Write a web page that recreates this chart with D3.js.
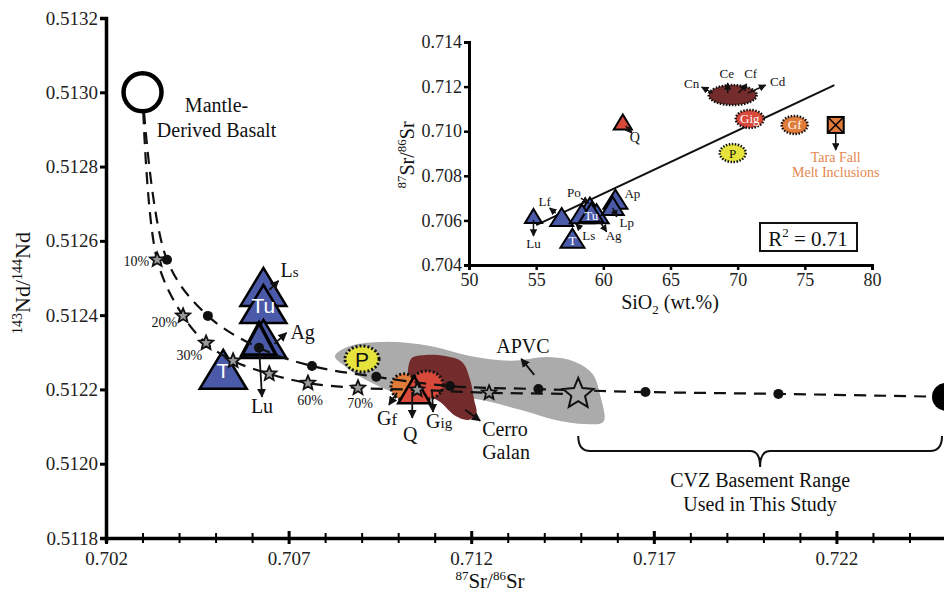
<!DOCTYPE html>
<html>
<head>
<meta charset="utf-8">
<script src="https://cdn.jsdelivr.net/npm/d3@7"></script>
<style>
  body { margin: 0; background: #fff; }
  svg text { font-family: "Liberation Serif", "Times New Roman", "DejaVu Serif", serif; fill: #111; }
</style>
</head>
<body>
<div id="chart"></div>
<script>
// ---- main diagram data (87Sr/86Sr vs 143Nd/144Nd) ----
var mantle = [0.7030, 0.51300];
var basement = [0.7250, 0.51218];
var bigStar = [0.71493, 0.512188];

// mixing curve with dots
var dotSr = [0.70367, 0.70479, 0.70619, 0.70764, 0.70940, 0.71142, 0.71384, 0.71677, 0.72041];
var dotNd = [0.512549, 0.512398, 0.512312, 0.512263, 0.512234, 0.512209, 0.512201, 0.512193, 0.512188];
// AFC-like curve with stars
var starSr = [0.70340, 0.70411, 0.70474, 0.70548, 0.70647, 0.70753, 0.70890, 0.71052, 0.71249];
var starNd = [0.512549, 0.512398, 0.512325, 0.512277, 0.512242, 0.512217, 0.512204, 0.512199, 0.512191];
var starPct = ["10%", "20%", "30%", "", "", "60%", "70%", "", ""];

var triNames = ["Ls", "Tu", "Ag", "Lu", "T"];
var triSr = [0.70631, 0.70631, 0.70631, 0.70619, 0.70521];
var triNd = [0.512476, 0.512430, 0.512336, 0.512336, 0.512254];

var ellNames = ["P", "Gf", "Gig"];
var ellSr = [0.70901, 0.71016, 0.71079];
var ellNd = [0.512282, 0.512207, 0.512212];
var qSr = 0.71044, qNd = 0.512199;

var apvcSr = [0.70827, 0.70868, 0.70964, 0.71088, 0.71197, 0.71307, 0.71411, 0.71485, 0.71532, 0.71553, 0.71562,
              0.71512, 0.71430, 0.71334, 0.71225, 0.71115, 0.71005, 0.70923, 0.70855];
var apvcNd = [0.512290, 0.512317, 0.512328, 0.512317, 0.512290, 0.512277, 0.512287, 0.512274, 0.512242, 0.512185, 0.512113,
              0.512107, 0.512118, 0.512145, 0.512172, 0.512183, 0.512188, 0.512220, 0.512262];
var galanSr = [0.71027, 0.71038, 0.71074, 0.71129, 0.71175, 0.71197, 0.71208, 0.71214, 0.71192, 0.71156, 0.71115, 0.71074, 0.71033];
var galanNd = [0.512252, 0.512285, 0.512293, 0.512290, 0.512274, 0.512226, 0.512172, 0.512134, 0.512118, 0.512129, 0.512166, 0.512188, 0.512212];

var xMajor = [0.702, 0.707, 0.712, 0.717, 0.722];
var yTicks = [0.5118, 0.5120, 0.5122, 0.5124, 0.5126, 0.5128, 0.5130, 0.5132];

// ---- inset data (SiO2 vs 87Sr/86Sr) ----
var inTriNames = ["Lu", "Lf", "Ls", "Po", "Ag", "Tu", "T", "Lp", "Ap"];
var inTriSi = [54.8, 56.9, 58.4, 59.0, 59.5, 59.1, 57.7, 60.7, 60.9];
var inTriSr = [0.70620, 0.70615, 0.70630, 0.70660, 0.70630, 0.70635, 0.70520, 0.70665, 0.70695];
var inEllNames = ["Cerro", "Gig", "Gf", "P"];
var inEllSi = [69.63, 70.9, 74.24, 69.63];
var inEllSr = [0.71162, 0.71055, 0.71028, 0.70902];
var inQSi = 61.45, inQSr = 0.71041;
var taraSi = 77.3, taraSr = 0.71028;
var fitSi = [55.0, 77.2];
var fitSr = [0.70579, 0.71207];
var inXTicks = [50, 55, 60, 65, 70, 75, 80];
var inYTicks = [0.704, 0.706, 0.708, 0.710, 0.712, 0.714];

var BLUE = "#4a5aa8", RED = "#d9493b", ORANGE = "#e07b3a", YELLOW = "#e6e43c",
    BROWN = "#742b2b", GRAY = "#ababab", TARA = "#e4874f";

function triPath(w, h) {
    return "M0," + (-h / 2) + "L" + (w / 2) + "," + (h / 2) + "L" + (-w / 2) + "," + (h / 2) + "Z";
}
function starPath(R) {
    var p = [];
    for (var i = 0; i < 10; i++) {
        var a = -Math.PI / 2 + i * Math.PI / 5, rr = i % 2 ? R * 0.45 : R;
        p.push([(rr * Math.cos(a)).toFixed(2), (rr * Math.sin(a)).toFixed(2)]);
    }
    return "M" + p.join("L") + "Z";
}

var svg = d3.select("#chart").append("svg").attr("width", 944).attr("height", 594)
    .attr("font-family", "'Liberation Serif', 'Times New Roman', serif");

svg.append("defs").append("marker")
    .attr("id", "ah").attr("viewBox", "0 0 10 10").attr("refX", 9).attr("refY", 5)
    .attr("markerWidth", 5).attr("markerHeight", 5).attr("orient", "auto")
    .append("path").attr("d", "M0,0L10,5L0,10z").attr("fill", "#111");

function arrow(g, x1, y1, x2, y2, sw) {
    g.append("line").attr("x1", x1).attr("y1", y1).attr("x2", x2).attr("y2", y2)
        .attr("stroke", "#111").attr("stroke-width", sw || 1.8).attr("marker-end", "url(#ah)");
}
function label(g, tx, ty, parts, size, anchor, fill) {
    var t = g.append("text").attr("x", tx).attr("y", ty).attr("font-size", size)
        .attr("text-anchor", anchor || "middle");
    if (fill) t.style("fill", fill);
    parts.forEach(function (p) {
        var s = t.append("tspan").text(p[0]);
        if (p[1]) s.attr("font-size", p[1]);
        if (p[2]) s.attr("dy", p[2]);
    });
    return t;
}

// ---- main scales & axes ----
var x = d3.scaleLinear().domain([0.702, 0.725]).range([106, 946]);
var y = d3.scaleLinear().domain([0.5118, 0.5132]).range([538, 18]);

var xTicksAll = d3.range(0, 23).map(function (i) { return +(0.702 + i * 0.001).toFixed(3); });
var gx = svg.append("g").attr("transform", "translate(0,538)")
    .call(d3.axisBottom(x).tickValues(xTicksAll).tickSizeOuter(0).tickSize(5).tickPadding(9)
        .tickFormat(function (d) { return xMajor.indexOf(d) >= 0 ? d3.format(".3f")(d) : ""; }));
gx.attr("font-family", null).attr("font-size", null);
gx.select(".domain").attr("stroke-width", 3.5).attr("stroke", "#000");
gx.selectAll(".tick line").attr("y1", -5).attr("y2", 5).attr("stroke-width", 2);
gx.selectAll(".tick line").filter(function (d) { return xMajor.indexOf(d) >= 0; }).attr("y1", -7).attr("y2", 6).attr("stroke-width", 3);
gx.selectAll(".tick text").attr("font-size", 19).style("fill", "#222");

var gy = svg.append("g").attr("transform", "translate(106,0)")
    .call(d3.axisLeft(y).tickValues(yTicks).tickSizeOuter(0).tickSize(6).tickPadding(2).tickFormat(d3.format(".4f")));
gy.attr("font-family", null).attr("font-size", null);
gy.select(".domain").attr("stroke-width", 3.5).attr("stroke", "#000");
gy.selectAll(".tick line").attr("stroke-width", 3);
gy.selectAll(".tick text").attr("font-size", 19).style("fill", "#222");

// axis titles
label(svg, 490, 588, [["87", 13, -8], ["Sr/", 21, 8], ["86", 13, -8], ["Sr", 21, 8]], 21);
label(svg.append("g").attr("transform", "translate(30,283) rotate(-90)"), 0, 0,
    [["143", 14, -8], ["Nd/", 22, 8], ["144", 14, -8], ["Nd", 22, 8]], 22);

// ---- regions ----
var plot = svg.append("g");
plot.append("path")
    .datum(d3.zip(apvcSr, apvcNd))
    .attr("d", d3.line().x(function (d) { return x(d[0]); }).y(function (d) { return y(d[1]); }).curve(d3.curveCatmullRomClosed))
    .attr("fill", GRAY);
plot.append("path")
    .datum(d3.zip(galanSr, galanNd))
    .attr("d", d3.line().x(function (d) { return x(d[0]); }).y(function (d) { return y(d[1]); }).curve(d3.curveCatmullRomClosed))
    .attr("fill", BROWN);

// blue triangles
var triW = [46, 46, 46, 34, 47], triH = [38, 38, 38, 32, 39], triSW = [2.5, 2.5, 2.5, 3.5, 2.5];
triNames.forEach(function (n, i) {
    var g = plot.append("g").attr("transform", "translate(" + x(triSr[i]) + "," + y(triNd[i]) + ")");
    g.append("path").attr("d", triPath(triW[i], triH[i])).attr("fill", BLUE)
        .attr("stroke", "#000").attr("stroke-width", triSW[i]).attr("stroke-linejoin", "miter");
    if (n === "Tu" || n === "T") {
        g.append("text").attr("y", 9).attr("text-anchor", "middle").attr("font-size", 21)
            .style("font-family", "'Liberation Sans', Arial, sans-serif").style("fill", "#fff").text(n);
    }
});

// ellipses
var ellRx = [17, 13, 16], ellRy = [13, 13, 14], ellFill = [YELLOW, ORANGE, RED];
ellNames.forEach(function (n, i) {
    plot.append("ellipse").attr("cx", x(ellSr[i])).attr("cy", y(ellNd[i]))
        .attr("rx", ellRx[i]).attr("ry", ellRy[i]).attr("fill", ellFill[i])
        .attr("stroke", "#111").attr("stroke-width", 3).attr("stroke-dasharray", "2,2");
});
plot.append("text").attr("x", x(ellSr[0])).attr("y", y(ellNd[0]) + 8).attr("text-anchor", "middle")
    .attr("font-size", 21).style("font-family", "'Liberation Sans', Arial, sans-serif").text("P");
plot.append("path").attr("transform", "translate(" + x(qSr) + "," + y(qNd) + ")")
    .attr("d", triPath(32, 27)).attr("fill", RED).attr("stroke", "#000").attr("stroke-width", 2.5);

// ---- mixing curves ----
var curveLine = d3.line().x(function (d) { return x(d[0]); }).y(function (d) { return y(d[1]); })
    .curve(d3.curveCatmullRom.alpha(0.5));
var dotPts = [mantle].concat(d3.zip(dotSr, dotNd)).concat([basement]);
var starPts = [mantle].concat(d3.zip(starSr, starNd)).concat([bigStar]);
[dotPts, starPts].forEach(function (pts) {
    plot.append("path").datum(pts).attr("d", curveLine).attr("fill", "none")
        .attr("stroke", "#111").attr("stroke-width", 2.2).attr("stroke-dasharray", "12,8");
});
plot.selectAll(".mixdot").data(d3.zip(dotSr, dotNd)).enter().append("circle")
    .attr("cx", function (d) { return x(d[0]); }).attr("cy", function (d) { return y(d[1]); })
    .attr("r", 5).attr("fill", "#111");
plot.selectAll(".mixstar").data(d3.zip(starSr, starNd)).enter().append("path")
    .attr("transform", function (d) { return "translate(" + x(d[0]) + "," + y(d[1]) + ")"; })
    .attr("d", starPath(7.5)).attr("fill", "#9a9a9a").attr("stroke", "#111").attr("stroke-width", 1.8);
plot.append("path").attr("transform", "translate(" + x(bigStar[0]) + "," + y(bigStar[1]) + ")")
    .attr("d", starPath(16)).attr("fill", "#a8a8a8").attr("stroke", "#111").attr("stroke-width", 2);
plot.append("circle").attr("cx", x(basement[0])).attr("cy", y(basement[1])).attr("r", 14).attr("fill", "#000");
plot.append("circle").attr("cx", x(mantle[0])).attr("cy", y(mantle[1])).attr("r", 19)
    .attr("fill", "#fff").attr("stroke", "#000").attr("stroke-width", 4.5);

// percent labels
var pctOff = [[-8, 6], [-6, 11], [-4, 17], [0, 0], [0, 0], [2, 22], [2, 20]];
starPct.forEach(function (p, i) {
    if (!p) return;
    plot.append("text").attr("x", x(starSr[i]) + pctOff[i][0]).attr("y", y(starNd[i]) + pctOff[i][1])
        .attr("font-size", 14).attr("text-anchor", i < 3 ? "end" : "middle").text(p);
});

// ---- annotations ----
var ann = svg.append("g");
label(ann, x(mantle[0]) + 74, y(mantle[1]) + 20, [["Mantle-"]], 20);
label(ann, x(mantle[0]) + 74, y(mantle[1]) + 45, [["Derived Basalt"]], 20);

var lsX = x(triSr[0]), lsY = y(triNd[0]);
arrow(ann, lsX + 6, lsY + 3, lsX + 15, lsY - 6);
label(ann, lsX + 17, lsY - 10, [["L", 20], ["s", 15]], 20, "start");
var agX = x(triSr[2]), agY = y(triNd[2]);
arrow(ann, agX + 11, agY + 5, agX + 23, agY - 6);
label(ann, agX + 27, agY + 0, [["Ag"]], 20, "start");
var luX = x(triSr[3]), luY = y(triNd[3]);
arrow(ann, luX, luY + 8, luX + 3, luY + 58);
label(ann, luX + 3, luY + 74, [["Lu"]], 20);

var gfX = x(ellSr[1]), gfY = y(ellNd[1]);
arrow(ann, gfX - 7, gfY + 6, gfX - 15, gfY + 18);
label(ann, gfX - 17, gfY + 38, [["G", 20], ["f", 17]], 20);
var qX = x(qSr), qY = y(qNd);
arrow(ann, qX - 2, qY + 2, qX - 2, qY + 28);
label(ann, qX - 4, qY + 51, [["Q"]], 20);
var giX = x(ellSr[2]), giY = y(ellNd[2]);
arrow(ann, giX + 5, giY + 6, giX + 6, giY + 27);
label(ann, giX - 1, giY + 43, [["G", 20], ["ig", 15]], 20, "start");

var cgX = x(galanSr[6]), cgY = y(galanNd[6]);
arrow(ann, cgX - 9, cgY + 10, cgX + 6, cgY + 21);
label(ann, cgX + 8, cgY + 36, [["Cerro"]], 20, "start");
label(ann, cgX + 8, cgY + 59, [["Galan"]], 20, "start");

var bsX = x(bigStar[0]), bsY = y(bigStar[1]);
arrow(ann, bsX - 44, bsY - 19, bsX - 57, bsY - 35);
label(ann, bsX - 82, bsY - 41, [["APVC"]], 20, "start");

// brace for basement range
var bl = bsX, br = Math.min(x(basement[0]), 942), bm = (bl + br) / 2, by0 = 436, by1 = 451;
ann.append("path")
    .attr("d", "M" + bl + "," + by0 + "Q" + bl + "," + by1 + " " + (bl + 12) + "," + by1 +
        "L" + (bm - 10) + "," + by1 + "Q" + bm + "," + by1 + " " + bm + "," + (by1 + 16) +
        "Q" + bm + "," + by1 + " " + (bm + 10) + "," + by1 + "L" + (br - 12) + "," + by1 +
        "Q" + br + "," + by1 + " " + br + "," + by0)
    .attr("fill", "none").attr("stroke", "#111").attr("stroke-width", 2);
label(ann, bm, 487, [["CVZ Basement Range"]], 20);
label(ann, bm, 511, [["Used in This Study"]], 20);

// ---- inset ----
var ix = d3.scaleLinear().domain([50, 80]).range([469, 872]);
var iy = d3.scaleLinear().domain([0.704, 0.714]).range([265, 42]);
var inset = svg.append("g");

var igx = inset.append("g").attr("transform", "translate(0,265)")
    .call(d3.axisBottom(ix).tickValues(inXTicks).tickSizeOuter(0).tickSize(5).tickPadding(3));
igx.attr("font-family", null).attr("font-size", null);
igx.select(".domain").attr("stroke-width", 3).attr("stroke", "#000");
igx.selectAll(".tick line").attr("stroke-width", 2.5);
igx.selectAll(".tick text").attr("font-size", 18).style("fill", "#222");

var igy = inset.append("g").attr("transform", "translate(469,0)")
    .call(d3.axisLeft(iy).tickValues(inYTicks).tickSizeOuter(0).tickSize(5).tickPadding(2).tickFormat(d3.format(".3f")));
igy.attr("font-family", null).attr("font-size", null);
igy.select(".domain").attr("stroke-width", 3).attr("stroke", "#000");
igy.selectAll(".tick line").attr("stroke-width", 2.5);
igy.selectAll(".tick text").attr("font-size", 18).style("fill", "#222");

label(inset, 670, 309, [["SiO", 20], ["2", 13, 5], [" (wt.%)", 20, -5]], 20);
label(inset.append("g").attr("transform", "translate(414,155) rotate(-90)"), 0, 0,
    [["87", 13, -8], ["Sr/", 20, 8], ["86", 13, -8], ["Sr", 20, 8]], 20);

// regression line
inset.append("line").attr("x1", ix(fitSi[0])).attr("y1", iy(fitSr[0])).attr("x2", ix(fitSi[1])).attr("y2", iy(fitSr[1]))
    .attr("stroke", "#111").attr("stroke-width", 2);

// inset triangles
var inTriW = [17, 23, 24, 24, 24, 24, 24, 22, 24], inTriH = [14, 18, 19, 19, 19, 19, 19, 18, 19];
var inOrder = [0, 1, 3, 4, 2, 5, 6, 8, 7];
inOrder.forEach(function (i) {
    var g = inset.append("g").attr("transform", "translate(" + ix(inTriSi[i]) + "," + iy(inTriSr[i]) + ")");
    g.append("path").attr("d", triPath(inTriW[i], inTriH[i])).attr("fill", BLUE)
        .attr("stroke", "#000").attr("stroke-width", 2);
    if (inTriNames[i] === "Tu" || inTriNames[i] === "T") {
        g.append("text").attr("y", 7).attr("text-anchor", "middle").attr("font-size", 13)
            .style("fill", "#fff").text(inTriNames[i]);
    }
});
// inset ellipses
var inRx = [24, 14, 13, 13], inRy = [10, 9, 9, 9], inFill = [BROWN, RED, ORANGE, YELLOW];
inEllNames.forEach(function (n, i) {
    inset.append("ellipse").attr("cx", ix(inEllSi[i])).attr("cy", iy(inEllSr[i]))
        .attr("rx", inRx[i]).attr("ry", inRy[i]).attr("fill", inFill[i])
        .attr("stroke", "#111").attr("stroke-width", 2.5).attr("stroke-dasharray", "1.5,1.5");
    if (i > 0) {
        inset.append("text").attr("x", ix(inEllSi[i])).attr("y", iy(inEllSr[i]) + 4.5)
            .attr("text-anchor", "middle").attr("font-size", 13)
            .style("fill", n === "P" ? "#111" : "#fff").text(n);
    }
});
// Q triangle
var iqX = ix(inQSi), iqY = iy(inQSr);
inset.append("path").attr("transform", "translate(" + iqX + "," + iqY + ")")
    .attr("d", triPath(18, 15)).attr("fill", RED).attr("stroke", "#000").attr("stroke-width", 2);
arrow(inset, iqX + 3, iqY + 4, iqX + 9, iqY + 11, 1.5);
label(inset, iqX + 12, iqY + 20, [["Q"]], 14);
// Tara Fall melt inclusions
var tX = ix(taraSi), tY = iy(taraSr);
inset.append("rect").attr("x", tX - 8).attr("y", tY - 8).attr("width", 16).attr("height", 16)
    .attr("fill", ORANGE).attr("stroke", "#000").attr("stroke-width", 2);
inset.append("path").attr("d", "M" + (tX - 7) + "," + (tY - 7) + "L" + (tX + 7) + "," + (tY + 7) +
    "M" + (tX + 7) + "," + (tY - 7) + "L" + (tX - 7) + "," + (tY + 7)).attr("stroke", "#000").attr("stroke-width", 1.5);
arrow(inset, tX, tY + 9, tX, tY + 25, 1.5);
label(inset, tX, tY + 37, [["Tara Fall"]], 14, "middle", TARA);
label(inset, tX, tY + 52, [["Melt Inclusions"]], 14, "middle", TARA);

// inset Cerro Galan labels
var cX = ix(inEllSi[0]), cY = iy(inEllSr[0]);
var cLab = ["Cn", "Ce", "Cf", "Cd"];
var cFrom = [[-20, -2], [-5, -2], [6, -2], [15, -2]];
var cTo = [[-31, -8], [-5, -12], [14, -11], [33, -10]];
var cTxt = [[-41, -7], [-6, -17], [18, -17], [45, -9]];
cLab.forEach(function (n, i) {
    arrow(inset, cX + cFrom[i][0], cY + cFrom[i][1], cX + cTo[i][0], cY + cTo[i][1], 1.5);
    label(inset, cX + cTxt[i][0], cY + cTxt[i][1], [[n]], 13);
});

// inset triangle labels
var tl = {
    Lu: { a: [0, 4, 0, 20], t: [0, 32] },
    Lf: { a: [-6, -4, -12, -9], t: [-17, -11] },
    Po: { a: [-9, -9, -1, -4], t: [-16, -10] },
    Ls: { a: [-1, 15, -6, 10], t: [7, 26] },
    Ag: { a: [2, 6, 10, 18], t: [17, 26] },
    Lp: { a: [0, 2, 4, 11], t: [14, 21] },
    Ap: { a: null, t: [17, -1] }
};
inTriNames.forEach(function (n, i) {
    if (!tl[n]) return;
    var px = ix(inTriSi[i]), py = iy(inTriSr[i]), o = tl[n];
    if (o.a) arrow(inset, px + o.a[0], py + o.a[1], px + o.a[2], py + o.a[3], 1.5);
    label(inset, px + o.t[0], py + o.t[1], [[n]], 13);
});

// R^2 box
inset.append("rect").attr("x", 760).attr("y", 223).attr("width", 97).attr("height", 28)
    .attr("fill", "#fff").attr("stroke", "#111").attr("stroke-width", 2);
label(inset, 808, 246, [["R", 21], ["2", 13, -9], [" = 0.71", 21, 9]], 21);
</script>
</body>
</html>
